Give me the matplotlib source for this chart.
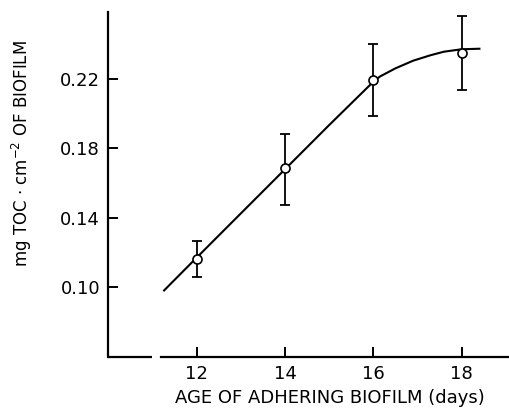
import matplotlib
matplotlib.use("Agg")
import matplotlib.pyplot as plt

# Data
days = [12, 14, 16, 18]
toc = [0.116, 0.1685, 0.2193, 0.235]
err_low = [0.1055, 0.1475, 0.1985, 0.2135]
err_high = [0.1265, 0.1885, 0.2405, 0.2565]

# fitted curve, points
curve_x = [11.26, 12.0, 13.0, 14.0, 15.0, 15.5, 15.8, 16.0, 16.15, 16.5, 16.9, 17.3, 17.6, 18.0, 18.4]
curve_y = [0.098, 0.117, 0.1425, 0.168, 0.1935, 0.206, 0.2135, 0.2185, 0.2215, 0.2262, 0.2306, 0.2338, 0.2358, 0.2372, 0.2375]

xticks = [12, 14, 16, 18]
xtick_labels = ["12", "14", "16", "18"]
yticks = [0.10, 0.14, 0.18, 0.22]
ytick_labels = ["0.10", "0.14", "0.18", "0.22"]

plt.rcParams['font.family'] = ['DejaVu Sans']

fig = plt.figure(figsize=(5.09, 4.08), dpi=100)
ax = fig.add_axes([0.213, 0.125, 0.787, 0.8456])

xlim = (10, 19.07)
ylim = (0.0596, 0.2587)
ax.set_xlim(*xlim)
ax.set_ylim(*ylim)

ax.plot(curve_x, curve_y, color='black', lw=1.5, zorder=2, solid_joinstyle='round')
yerr = [[t - l for t, l in zip(toc, err_low)], [h - t for t, h in zip(toc, err_high)]]
ax.errorbar(days, toc, yerr=yerr, fmt='none', ecolor='black', elinewidth=1.3,
            capsize=3.5, capthick=1.3, zorder=3)
ax.plot(days, toc, 'o', markersize=6.5, markerfacecolor='white',
        markeredgecolor='black', markeredgewidth=1.2, zorder=4)

for s in ['top', 'right']:
    ax.spines[s].set_visible(False)
ax.spines['left'].set_linewidth(1.6)
ax.spines['bottom'].set_linewidth(1.6)
ax.spines['bottom'].set_bounds(11.19, xlim[1])
ax.plot([xlim[0], 10.98], [ylim[0], ylim[0]], color='black', lw=1.6,
        solid_capstyle='butt', clip_on=False, zorder=5)

ax.set_xticks(xticks)
ax.set_xticklabels(xtick_labels)
ax.set_yticks(yticks)
ax.set_yticklabels(ytick_labels)
ax.tick_params(axis='both', direction='in', length=7, width=1.4, labelsize=13, pad=6)

ax.set_xlabel("AGE OF ADHERING BIOFILM (days)", fontsize=13, va='baseline')
ax.xaxis.set_label_coords(0.552, -0.133)
ax.set_ylabel(r"mg TOC $\cdot$ cm$^{-2}$ OF BIOFILM", fontsize=12)
ax.yaxis.set_label_coords(-0.185, 0.59)

fig.savefig("out.png", dpi=100)
